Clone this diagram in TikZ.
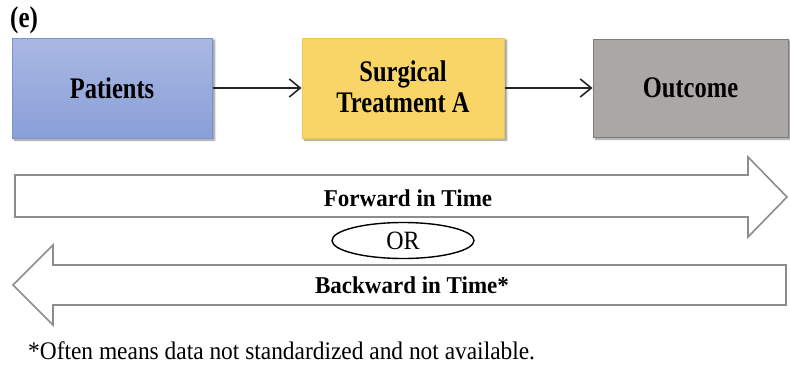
\documentclass[tikz,border=0pt]{standalone}
\usepackage{fontspec}
\setmainfont{Liberation Serif}
\usetikzlibrary{arrows.meta,shapes.geometric,shadows.blur}

\definecolor{ptop}{RGB}{170,184,227}
\definecolor{pbot}{RGB}{137,159,216}
\definecolor{pline}{RGB}{124,146,206}
\definecolor{yfill}{RGB}{249,213,104}
\definecolor{yline}{RGB}{238,198,90}
\definecolor{gfill}{RGB}{171,167,166}
\definecolor{gline}{RGB}{128,124,123}
\definecolor{bigline}{RGB}{140,140,140}

\newcommand{\tallbox}[2]{\scalebox{1}[#1]{#2}}

\tikzset{
  stagebox/.style={draw, line width=1pt, align=center,
    font=\bfseries\fontsize{24.5}{25}\selectfont,
    blur shadow={shadow xshift=2.5pt, shadow yshift=-2pt, shadow blur steps=6, shadow opacity=45}},
  stagetext/.style={align=center, font=\bfseries\fontsize{24.5}{25.5}\selectfont},
  flowarrow/.style={line width=1.6pt, draw=black!85,
    -{Straight Barb[length=11pt,width=18pt,line width=1.6pt]}},
  timearrow/.style={draw=bigline, line width=1.6pt, fill=white, line join=miter},
  timetext/.style={font=\bfseries\fontsize{23}{26}\selectfont, anchor=base},
}

\begin{document}
\begin{tikzpicture}[x=1pt, y=-1pt]
  \useasboundingbox (0,0) rectangle (790,367);

  % panel label
  \node[anchor=base west, inner sep=0pt, font=\bfseries\fontsize{25}{28}\selectfont] (lbl) at (10,27)
    {\tallbox{1.2}{(e)}};

  % the three stages
  \node[stagebox, draw=pline, top color=ptop, bottom color=pbot,
        minimum width=200pt, minimum height=100pt] (pat) at (112,88)
    {\tallbox{1.22}{Patients}};
  \node[stagebox, draw=yline, fill=yfill,
        minimum width=202pt, minimum height=100pt] (surg) at (403,88) {};
  \node[stagetext] (surgtext) at ([yshift=-3pt]surg.center)
    {\tallbox{1.22}{\begin{tabular}{@{}c@{}}Surgical\\Treatment A\end{tabular}}};
  \node[stagebox, draw=gline, fill=gfill,
        minimum width=195pt, minimum height=98pt] (out) at (690.5,88)
    {\tallbox{1.22}{Outcome}};

  \draw[flowarrow] (pat.east) -- (surg.west);
  \draw[flowarrow] (surg.east) -- (out.west);

  % forward-in-time block arrow
  \draw[timearrow] (15,175) -- (748,175) -- (748,157) -- (787,197)
        -- (748,237) -- (748,217) -- (15,217) -- cycle;
  \node[timetext] (fwd) at (408,206) {\tallbox{1.05}{Forward in Time}};

  % alternative marker
  \node[draw, ellipse, line width=1.4pt, minimum width=142pt, minimum height=36pt,
        inner sep=0pt, font=\fontsize{24}{26}\selectfont] (or) at (403,240.5)
    {\tallbox{1.1}{OR}};

  % backward-in-time block arrow
  \draw[timearrow] (786,265) -- (53,265) -- (53,245) -- (13,285)
        -- (53,325) -- (53,305) -- (786,305) -- cycle;
  \node[timetext] (bwd) at (412,293) {\tallbox{1.05}{Backward in Time*}};

  % footnote
  \node[anchor=base west, inner sep=0pt, font=\fontsize{23.4}{26}\selectfont] (note) at (28,359)
    {\tallbox{1.08}{*Often means data not standardized and not available.}};
\end{tikzpicture}
\end{document}
